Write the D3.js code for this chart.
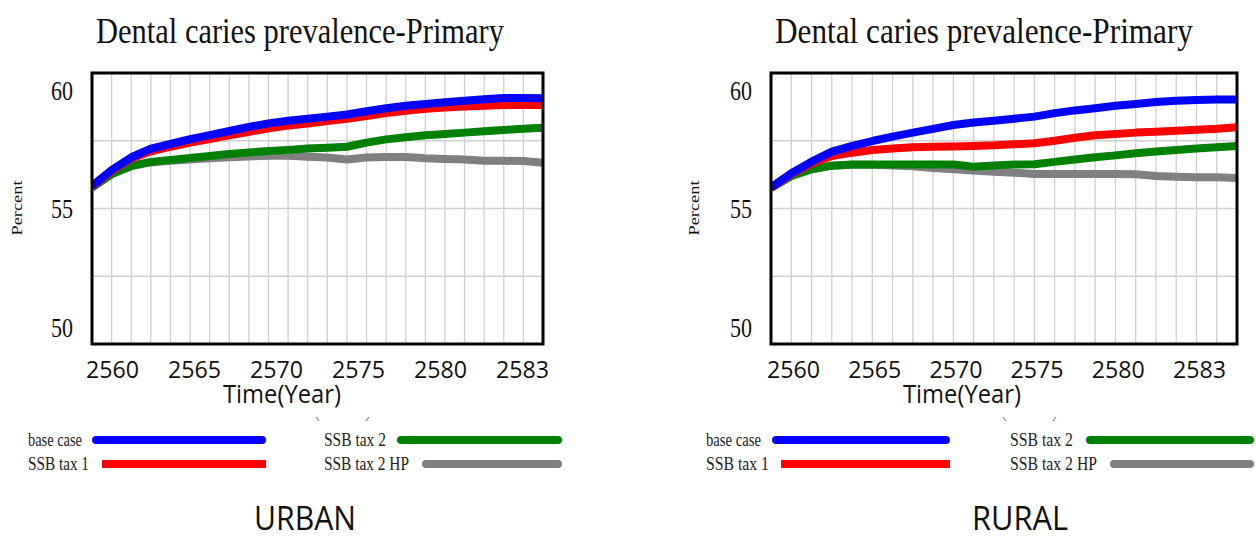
<!DOCTYPE html>
<html lang="en">
<head>
<meta charset="UTF-8">
<title>Dental caries prevalence - Primary</title>
<script src="https://d3js.org/d3.v7.min.js"></script>
<style>
  body { margin: 0; background: #fff; }
  svg { display: block; background: #fff; }
</style>
</head>
<body>
<svg id="chart" width="1256" height="540"></svg>
<script>
// ---- data ----
const years = [2560, 2561, 2562, 2563, 2564, 2565, 2566, 2567, 2568, 2569, 2570, 2571,
               2572, 2573, 2574, 2575, 2576, 2577, 2578, 2579, 2580, 2581, 2582, 2583];
const xTickLabels = ["2560", "2565", "2570", "2575", "2580", "2583"];
const yTickLabels = ["60", "55", "50"];
const seriesNames = ["base case", "SSB tax 1", "SSB tax 2", "SSB tax 2 HP"];
const seriesColors = ["#0000ff", "#ff0000", "#008000", "#808080"];

const urbanBase   = [55.83, 56.42, 56.89, 57.21, 57.38, 57.56, 57.71, 57.86, 58.01, 58.14, 58.24, 58.31,
                     58.39, 58.47, 58.59, 58.70, 58.79, 58.86, 58.92, 58.98, 59.03, 59.08, 59.08, 59.07];
const urbanTax1   = [55.81, 56.39, 56.85, 57.11, 57.28, 57.43, 57.56, 57.70, 57.83, 57.96, 58.06, 58.14,
                     58.23, 58.31, 58.41, 58.52, 58.61, 58.68, 58.73, 58.76, 58.79, 58.82, 58.83, 58.82];
const urbanTax2   = [55.78, 56.27, 56.57, 56.72, 56.79, 56.86, 56.94, 57.01, 57.07, 57.12, 57.16, 57.21,
                     57.24, 57.28, 57.43, 57.55, 57.63, 57.70, 57.75, 57.80, 57.85, 57.90, 57.94, 57.98];
const urbanTax2HP = [55.78, 56.27, 56.57, 56.70, 56.76, 56.81, 56.85, 56.89, 56.92, 56.95, 56.95, 56.91,
                     56.88, 56.81, 56.88, 56.90, 56.90, 56.85, 56.83, 56.81, 56.76, 56.76, 56.75, 56.69];

const ruralBase   = [55.78, 56.30, 56.73, 57.10, 57.31, 57.49, 57.65, 57.80, 57.94, 58.08, 58.17, 58.24,
                     58.31, 58.39, 58.52, 58.62, 58.70, 58.79, 58.86, 58.93, 58.98, 59.00, 59.02, 59.02];
const ruralTax1   = [55.76, 56.27, 56.67, 56.94, 57.06, 57.16, 57.21, 57.26, 57.28, 57.29, 57.31, 57.33,
                     57.37, 57.41, 57.50, 57.61, 57.70, 57.75, 57.80, 57.83, 57.87, 57.91, 57.94, 58.00];
const ruralTax2   = [55.76, 56.20, 56.45, 56.58, 56.62, 56.62, 56.62, 56.62, 56.62, 56.62, 56.54, 56.59,
                     56.62, 56.63, 56.72, 56.81, 56.89, 56.96, 57.04, 57.10, 57.16, 57.21, 57.26, 57.31];
const ruralTax2HP = [55.76, 56.20, 56.45, 56.58, 56.61, 56.61, 56.59, 56.56, 56.49, 56.45, 56.40, 56.36,
                     56.32, 56.27, 56.27, 56.27, 56.27, 56.27, 56.26, 56.20, 56.17, 56.15, 56.15, 56.13];

// ---- layout ----
const SERIF = '"Liberation Serif", "Times New Roman", serif';
const SANS = '"Open Sans", "Liberation Sans", sans-serif';

const panels = [
  {
    title: "Dental caries prevalence-Primary", titleX: 300, titleW: 408,
    caption: "URBAN", captionX: 305, captionW: 102,
    values: [urbanBase, urbanTax1, urbanTax2, urbanTax2HP],
    box: { x: 92, y: 73, w: 451, h: 271 },
    xLabelRange: [112, 522], yLabelX: 62, percentX: 17, timeX: 282,
    marks: [316, 369],
    legend: [
      { tx: 28, tw: 54, x1: 92, x2: 266 },
      { tx: 28, tw: 61, x1: 102, x2: 266 },
      { tx: 324, tw: 62, x1: 397, x2: 562 },
      { tx: 324, tw: 85, x1: 422, x2: 562 }
    ]
  },
  {
    title: "Dental caries prevalence-Primary", titleX: 984, titleW: 418,
    caption: "RURAL", captionX: 1020, captionW: 96,
    values: [ruralBase, ruralTax1, ruralTax2, ruralTax2HP],
    box: { x: 771, y: 73, w: 466, h: 271 },
    xLabelRange: [793, 1199], yLabelX: 741, percentX: 694, timeX: 962,
    marks: [1003, 1056],
    legend: [
      { tx: 706, tw: 55, x1: 772, x2: 950 },
      { tx: 706, tw: 63, x1: 781, x2: 950 },
      { tx: 1010, tw: 63, x1: 1086, x2: 1254 },
      { tx: 1010, tw: 87, x1: 1110, x2: 1254 }
    ]
  }
];

const svg = d3.select("#chart");

panels.forEach((p, pi) => {
  const g = svg.append("g");
  const b = p.box;

  const x = d3.scaleLinear().domain([years[0], years[years.length - 1]]).range([b.x, b.x + b.w]);
  const y = d3.scaleLinear().domain([50, 60]).range([b.y + b.h, b.y]);

  // title
  g.append("text")
    .attr("x", p.titleX).attr("y", 43)
    .attr("text-anchor", "middle")
    .attr("font-family", SERIF).attr("font-size", 35).attr("fill", "#111")
    .attr("textLength", p.titleW).attr("lengthAdjust", "spacingAndGlyphs")
    .text(p.title);

  // grid
  g.append("g").selectAll("line")
    .data(years.slice(1, -1))
    .join("line")
    .attr("x1", d => x(d)).attr("x2", d => x(d))
    .attr("y1", b.y).attr("y2", b.y + b.h)
    .attr("stroke", "#cfcfcf").attr("stroke-width", 1.3);

  g.append("g").selectAll("line")
    .data([52.5, 55, 57.5])
    .join("line")
    .attr("x1", b.x).attr("x2", b.x + b.w)
    .attr("y1", d => y(d)).attr("y2", d => y(d))
    .attr("stroke", "#cfcfcf").attr("stroke-width", 1.3);

  // series lines, base case drawn last (on top)
  const clipId = "clip" + pi;
  g.append("clipPath").attr("id", clipId)
    .append("rect").attr("x", b.x).attr("y", b.y).attr("width", b.w).attr("height", b.h);

  const line = d3.line()
    .x((d, i) => x(years[i]))
    .y(d => y(d));

  g.append("g").attr("clip-path", `url(#${clipId})`)
    .selectAll("path")
    .data([3, 2, 1, 0])
    .join("path")
    .attr("d", k => line(p.values[k]))
    .attr("fill", "none")
    .attr("stroke", k => seriesColors[k])
    .attr("stroke-width", 8)
    .attr("stroke-linejoin", "round");

  // frame
  g.append("rect")
    .attr("x", b.x).attr("y", b.y).attr("width", b.w).attr("height", b.h)
    .attr("fill", "none").attr("stroke", "#000").attr("stroke-width", 3);

  // x tick labels
  const xl = d3.scalePoint().domain(xTickLabels).range(p.xLabelRange);
  const xa = g.append("g")
    .attr("transform", "translate(0,378)")
    .call(d3.axisBottom(xl).tickSize(0).tickPadding(0));
  xa.select(".domain").remove();
  xa.attr("font-family", SANS).attr("font-size", 24);
  xa.selectAll("text")
    .attr("y", 0).attr("dy", null).attr("fill", "#111")
    .attr("textLength", 53).attr("lengthAdjust", "spacingAndGlyphs");

  // y tick labels
  const yl = d3.scalePoint().domain(yTickLabels).range([90, 327]);
  const ya = g.append("g")
    .attr("transform", `translate(${p.yLabelX},0)`)
    .call(d3.axisLeft(yl).tickSize(0).tickPadding(0));
  ya.select(".domain").remove();
  ya.attr("font-family", SERIF).attr("font-size", 27).attr("text-anchor", "middle");
  ya.selectAll("text")
    .attr("x", 0).attr("dy", "0.34em").attr("fill", "#111")
    .attr("textLength", 22).attr("lengthAdjust", "spacingAndGlyphs");

  // axis titles
  g.append("text")
    .attr("transform", `translate(${p.percentX},208) rotate(-90)`)
    .attr("text-anchor", "middle").attr("dy", "0.35em")
    .attr("font-family", SERIF).attr("font-size", 15).attr("fill", "#111")
    .attr("textLength", 55).attr("lengthAdjust", "spacingAndGlyphs")
    .text("Percent");

  g.append("text")
    .attr("x", p.timeX).attr("y", 403)
    .attr("text-anchor", "middle")
    .attr("font-family", SANS).attr("font-size", 25).attr("fill", "#111")
    .attr("textLength", 118).attr("lengthAdjust", "spacingAndGlyphs")
    .text("Time(Year)");

  // little stray marks under the axis title
  g.append("line")
    .attr("x1", p.marks[0]).attr("y1", 417).attr("x2", p.marks[0] + 3).attr("y2", 421)
    .attr("stroke", "#666").attr("stroke-width", 1);
  g.append("line")
    .attr("x1", p.marks[1]).attr("y1", 417).attr("x2", p.marks[1] - 3).attr("y2", 421)
    .attr("stroke", "#666").attr("stroke-width", 1);

  // legend
  const rowY = [440, 464, 440, 464];
  const lg = g.append("g").selectAll("g")
    .data(seriesNames)
    .join("g");

  lg.append("text")
    .attr("x", (d, k) => p.legend[k].tx)
    .attr("y", (d, k) => rowY[k] + 6)
    .attr("font-family", SERIF).attr("font-size", 18).attr("fill", "#222")
    .attr("textLength", (d, k) => p.legend[k].tw).attr("lengthAdjust", "spacingAndGlyphs")
    .text(d => d);

  lg.append("line")
    .attr("x1", (d, k) => p.legend[k].x1 + (k === 1 ? 0 : 4))
    .attr("x2", (d, k) => p.legend[k].x2 - (k === 1 ? 0 : 4))
    .attr("y1", (d, k) => rowY[k]).attr("y2", (d, k) => rowY[k])
    .attr("stroke", (d, k) => seriesColors[k])
    .attr("stroke-width", 8)
    .attr("stroke-linecap", (d, k) => k === 1 ? "butt" : "round");

  // caption
  g.append("text")
    .attr("x", p.captionX).attr("y", 530)
    .attr("text-anchor", "middle")
    .attr("font-family", SANS).attr("font-size", 32).attr("fill", "#111")
    .attr("textLength", p.captionW).attr("lengthAdjust", "spacingAndGlyphs")
    .text(p.caption);
});
</script>
</body>
</html>
